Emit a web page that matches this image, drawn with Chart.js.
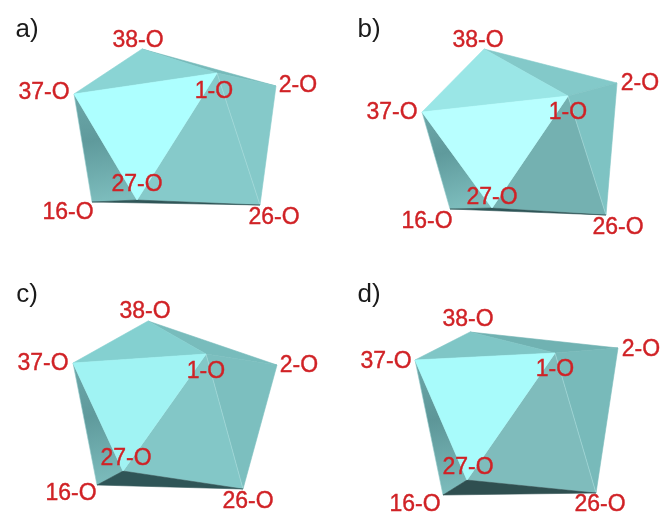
<!DOCTYPE html>
<html>
<head>
<meta charset="utf-8">
<style>
  html, body { margin: 0; padding: 0; background: #fff; }
  canvas { display: block; }
</style>
<script src="https://cdn.jsdelivr.net/npm/chart.js@4/dist/chart.umd.min.js"></script>
</head>
<body>
<canvas id="myChart" width="662" height="513"></canvas>
<script>
const panelNames = ['a)', 'b)', 'c)', 'd)'];
const vertexNames = ['38-O', '37-O', '1-O', '2-O', '26-O', '16-O', '27-O'];

// vertex positions per panel, same order as vertexNames
const xA = [142, 74, 217, 276, 260, 92, 137];
const yA = [49, 94, 73, 86, 205, 202, 200];
const xB = [484, 422, 568, 617, 606, 450, 492];
const yB = [49, 112, 96, 83, 215, 209, 208];
const xC = [148, 73, 206, 277, 243, 97, 123];
const yC = [321, 363, 354, 365, 489, 485, 471];
const xD = [470, 415, 555, 618, 596, 443, 467];
const yD = [332, 360, 353, 348, 493, 495, 480];

// triangles, back to front, as indexes in vertexNames
const faceBack = [0, 3, 2];
const faceTop = [0, 1, 2];
const faceRight = [2, 3, 4];
const faceFront = [2, 4, 6];
const faceLeft = [1, 6, 5];
const faceBottom = [5, 6, 4];
const faceMain = [1, 2, 6];

const colorsA = ['#76baba', '#8ad4d4', '#85c9c9', '#86caca', '#5f9a9c', '#2f5557', '#adffff'];
const colorsB = ['#83c9c9', '#9ae6e6', '#7ec3c3', '#74b1b1', '#5f9a9c', '#2f5557', '#b8ffff'];
const colorsC = ['#78bcbc', '#84d0d0', '#7cbfbf', '#83c7c7', '#5f9a9c', '#2f5557', '#a0f3f3'];
const colorsD = ['#70b2b2', '#7fc6c6', '#78baba', '#7fbcbc', '#5d9698', '#2f4f50', '#a8fbfb'];

const faces = [faceBack, faceTop, faceRight, faceFront, faceLeft, faceBottom, faceMain];

const panels = [
    { x: xA, y: yA, colors: colorsA },
    { x: xB, y: yB, colors: colorsB },
    { x: xC, y: yC, colors: colorsC },
    { x: xD, y: yD, colors: colorsD },
];

// label placement, in the same units as the vertices
const panelTitleX = [27, 369, 27, 369];
const panelTitleY = [30, 30, 295, 295];
const labelXA = [138, 44, 214, 298, 274, 68, 137];
const labelYA = [41, 93, 92, 86, 218, 213, 185];
const labelXB = [478, 392, 568, 640, 618, 427, 492];
const labelYB = [41, 113, 113, 84, 228, 222, 198];
const labelXC = [145, 43, 206, 299, 248, 71, 126];
const labelYC = [312, 364, 372, 366, 502, 494, 459];
const labelXD = [468, 386, 555, 641, 600, 415, 468];
const labelYD = [320, 362, 370, 350, 505, 505, 468];
const labelX = [labelXA, labelXB, labelXC, labelXD];
const labelY = [labelYA, labelYB, labelYC, labelYD];

const datasets = [];
let drawOrder = 100;

panels.forEach(function (panel) {
    faces.forEach(function (face, f) {
        const points = face.concat(face[0]).map(function (v) {
            return { x: panel.x[v], y: panel.y[v] };
        });
        datasets.push({
            data: points,
            showLine: true,
            tension: 0,
            pointRadius: 0,
            borderWidth: 0.6,
            // only the front right face keeps a pale edge, the rest melt together
            borderColor: face == faceFront ? '#a8dcdc' : (face == faceLeft ? '#8fcaca' : panel.colors[f]),
            fill: 'shape',
            order: drawOrder--,
            clip: false,
            backgroundColor: face == faceLeft ? function (context) {
                const scales = context.chart.scales;
                if (!scales.x || !scales.y) return panel.colors[f];
                const x0 = scales.x.getPixelForValue(panel.x[1]);
                const y0 = scales.y.getPixelForValue(panel.y[1]);
                const x1 = scales.x.getPixelForValue(panel.x[5]);
                const y1 = scales.y.getPixelForValue(panel.y[5]);
                if (![x0, y0, x1, y1].every(Number.isFinite)) return panel.colors[f];
                const g = context.chart.ctx.createLinearGradient(x0, y0, x1, y1);
                g.addColorStop(0, '#6ca7a9');
                g.addColorStop(0.45, panel.colors[f]);
                g.addColorStop(1, '#7cbcbc');
                return g;
            } : panel.colors[f],
        });
    });
});

const textPlugin = {
    id: 'textPlugin',
    afterDatasetsDraw: function (chart) {
        const ctx = chart.ctx;
        const sx = chart.scales.x;
        const sy = chart.scales.y;
        ctx.save();
        ctx.textAlign = 'center';
        ctx.textBaseline = 'middle';

        ctx.fillStyle = '#1a1a1a';
        ctx.font = '26px "Liberation Sans"';
        panelNames.forEach(function (name, p) {
            ctx.fillText(name, sx.getPixelForValue(panelTitleX[p]), sy.getPixelForValue(panelTitleY[p]));
        });

        ctx.fillStyle = '#d02226';
        ctx.strokeStyle = '#d02226';
        ctx.lineWidth = 0.4;
        ctx.font = '23px "Liberation Sans"';
        panels.forEach(function (panel, p) {
            vertexNames.forEach(function (name, v) {
                const px = sx.getPixelForValue(labelX[p][v]);
                const py = sy.getPixelForValue(labelY[p][v]);
                ctx.fillText(name, px, py);
                ctx.strokeText(name, px, py);
            });
        });
        ctx.restore();
    }
};

const config = {
    type: 'scatter',
    data: { datasets: datasets },
    options: {
        responsive: false,
        animation: false,
        layout: { padding: 0 },
        plugins: {
            legend: { display: false },
            tooltip: { enabled: false },
        },
        scales: {
            x: { type: 'linear', min: 0, max: 662, display: false },
            y: { type: 'linear', min: 0, max: 513, reverse: true, display: false },
        }
    },
    plugins: [textPlugin]
};

const myChart = new Chart(document.getElementById('myChart'), config);
</script>
</body>
</html>
